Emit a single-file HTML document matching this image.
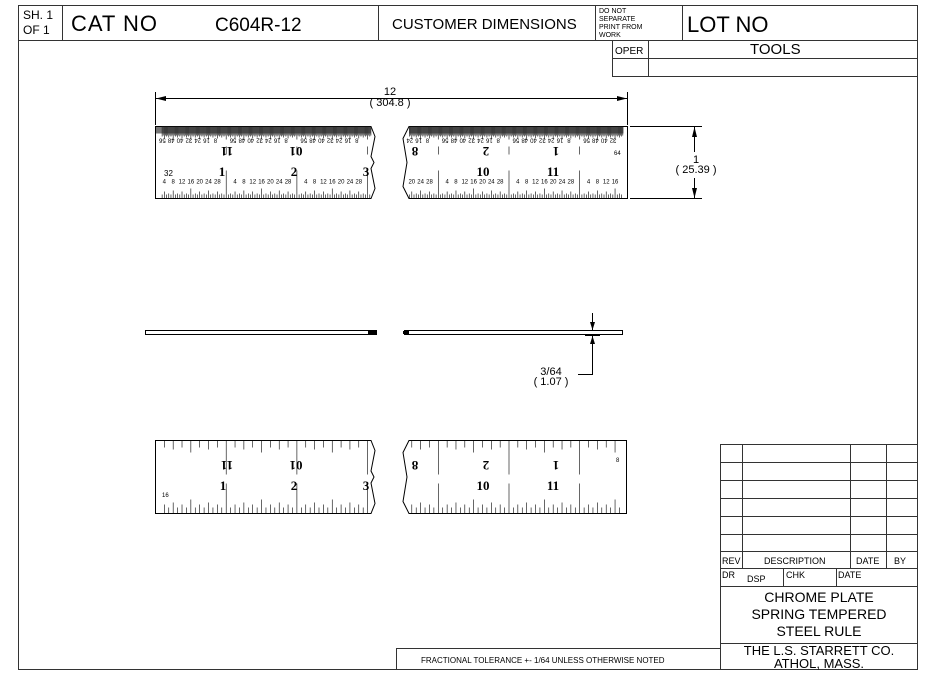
<!DOCTYPE html>
<html><head><meta charset="utf-8"><style>
html,body{margin:0;padding:0;background:#fff}
svg{display:block}
text{font-family:"Liberation Sans",sans-serif;fill:#000}
.b{font-family:"Liberation Serif",serif;font-weight:bold}
</style></head><body>
<svg id="s" width="936" height="684" viewBox="0 0 936 684" xmlns="http://www.w3.org/2000/svg">
<g fill="none" stroke="#333" stroke-width="1">
<rect x="18.5" y="5.5" width="899" height="664"/>
<line x1="18" y1="40.5" x2="918" y2="40.5"/>
<line x1="62.5" y1="5" x2="62.5" y2="40"/>
<line x1="378.5" y1="5" x2="378.5" y2="40"/>
<line x1="595.5" y1="5" x2="595.5" y2="40"/>
<line x1="682.5" y1="5" x2="682.5" y2="40"/>
<line x1="612.5" y1="40" x2="612.5" y2="76"/>
<line x1="648.5" y1="40" x2="648.5" y2="76"/>
<line x1="612" y1="58.5" x2="918" y2="58.5"/>
<line x1="612" y1="76.5" x2="918" y2="76.5"/>
<rect x="720.5" y="444.5" width="197" height="225"/>
<line x1="720" y1="462.5" x2="918" y2="462.5"/>
<line x1="720" y1="480.5" x2="918" y2="480.5"/>
<line x1="720" y1="498.5" x2="918" y2="498.5"/>
<line x1="720" y1="516.5" x2="918" y2="516.5"/>
<line x1="720" y1="534.5" x2="918" y2="534.5"/>
<line x1="720" y1="551.5" x2="918" y2="551.5"/>
<line x1="720" y1="568.5" x2="918" y2="568.5"/>
<line x1="720" y1="586.5" x2="918" y2="586.5"/>
<line x1="720" y1="643.5" x2="918" y2="643.5"/>
<line x1="742.5" y1="444" x2="742.5" y2="568"/>
<line x1="850.5" y1="444" x2="850.5" y2="568"/>
<line x1="886.5" y1="444" x2="886.5" y2="568"/>
<line x1="783.5" y1="568" x2="783.5" y2="586"/>
<line x1="836.5" y1="568" x2="836.5" y2="586"/>
<rect x="396.5" y="648.5" width="324" height="21"/>
</g>
<text x="23" y="19" font-size="12">SH. 1</text>
<text x="23" y="34" font-size="12">OF  1</text>
<text x="71" y="31" font-size="22" textLength="86">CAT NO</text>
<text x="215" y="31" font-size="19">C604R-12</text>
<text x="392" y="29" font-size="15">CUSTOMER DIMENSIONS</text>
<text x="599" y="13" font-size="7">DO NOT</text>
<text x="599" y="21" font-size="7">SEPARATE</text>
<text x="599" y="29" font-size="7">PRINT FROM</text>
<text x="599" y="37" font-size="7">WORK</text>
<text x="687" y="32" font-size="22">LOT NO</text>
<text x="615" y="54" font-size="10">OPER</text>
<text x="750" y="54" font-size="15">TOOLS</text>

<text x="722" y="564" font-size="9">REV</text>
<text x="764" y="564" font-size="9">DESCRIPTION</text>
<text x="856" y="564" font-size="9">DATE</text>
<text x="894" y="564" font-size="9">BY</text>
<text x="722" y="578" font-size="9">DR</text>
<text x="747" y="582" font-size="9">DSP</text>
<text x="786" y="578" font-size="9">CHK</text>
<text x="838" y="578" font-size="9">DATE</text>
<text x="819" y="602" font-size="14" text-anchor="middle">CHROME PLATE</text>
<text x="819" y="619" font-size="14" text-anchor="middle">SPRING TEMPERED</text>
<text x="819" y="636" font-size="14" text-anchor="middle">STEEL RULE</text>
<text x="819" y="655" font-size="13" text-anchor="middle">THE L.S. STARRETT CO.</text>
<text x="819" y="668" font-size="13" text-anchor="middle">ATHOL, MASS.</text>
<text x="421" y="663" font-size="8">FRACTIONAL TOLERANCE  +- 1/64 UNLESS OTHERWISE NOTED</text>

<g stroke="#000" stroke-width="1" fill="none">
<line x1="155.5" y1="92" x2="155.5" y2="125"/>
<line x1="627.5" y1="92" x2="627.5" y2="125"/>
<line x1="156" y1="98.5" x2="627" y2="98.5"/>
<line x1="630" y1="126.5" x2="702" y2="126.5"/>
<line x1="630" y1="198.5" x2="702" y2="198.5"/>
<line x1="694.5" y1="127" x2="694.5" y2="152"/>
<line x1="694.5" y1="178" x2="694.5" y2="198"/>
<line x1="592.5" y1="313" x2="592.5" y2="330"/>
<line x1="592.5" y1="336" x2="592.5" y2="374"/>
<line x1="578" y1="374.5" x2="593" y2="374.5"/>
<line x1="585" y1="330.5" x2="600" y2="330.5"/>
<line x1="585" y1="335.5" x2="600" y2="335.5"/>
</g>
<g fill="#000">
<polygon points="156,98.5 166,96 166,101"/>
<polygon points="627,98.5 617,96 617,101"/>
<polygon points="694.5,127 692,137 697,137"/>
<polygon points="694.5,198 692,188 697,188"/>
<polygon points="592.5,330 590,322 595,322"/>
<polygon points="592.5,336 590,344 595,344"/>
</g>
<text x="390" y="95" font-size="11" text-anchor="middle">12</text>
<text x="390" y="106" font-size="11" text-anchor="middle">( 304.8 )</text>
<text x="696" y="163" font-size="11" text-anchor="middle">1</text>
<text x="696" y="173" font-size="11" text-anchor="middle">( 25.39 )</text>
<text x="551" y="375" font-size="11" text-anchor="middle">3/64</text>
<text x="551" y="385" font-size="11" text-anchor="middle">( 1.07 )</text>

<g stroke="#000" fill="#fff">
<rect x="145.5" y="330.5" width="231" height="4"/>
<rect x="404.5" y="330.5" width="218" height="4"/>
</g>
<rect x="368" y="331" width="9" height="3" fill="#000"/>
<rect x="403" y="331" width="6" height="3" fill="#000"/>

<g id="rulers"></g>

<g class="b" font-size="13">
<text class="b" x="222" y="176" text-anchor="middle">1</text>
<text class="b" x="294" y="176" text-anchor="middle">2</text>
<text class="b" x="366" y="176" text-anchor="middle">3</text>
<text class="b" x="415" y="157" transform="rotate(180 415 152)" text-anchor="middle">8</text>
<text class="b" x="483" y="176" text-anchor="middle">10</text>
<text class="b" x="553" y="176" text-anchor="middle">11</text>
<text class="b" x="294" y="490" text-anchor="middle">2</text>
<text class="b" x="223" y="490" text-anchor="middle">1</text>
<text class="b" x="483" y="490" text-anchor="middle">10</text>
<text class="b" x="553" y="490" text-anchor="middle">11</text>
<text class="b" x="227" y="157" transform="rotate(180 227 152)" text-anchor="middle">11</text>
<text class="b" x="296" y="157" transform="rotate(180 296 152)" text-anchor="middle">01</text>
<text class="b" x="486" y="157" transform="rotate(180 486 152)" text-anchor="middle">2</text>
<text class="b" x="556" y="157" transform="rotate(180 556 152)" text-anchor="middle">1</text>
<text class="b" x="227" y="471" transform="rotate(180 227 466)" text-anchor="middle">11</text>
<text class="b" x="296" y="471" transform="rotate(180 296 466)" text-anchor="middle">01</text>
<text class="b" x="366" y="490" text-anchor="middle">3</text>
<text class="b" x="415" y="471" transform="rotate(180 415 466)" text-anchor="middle">8</text>
<text class="b" x="486" y="471" transform="rotate(180 486 466)" text-anchor="middle">2</text>
<text class="b" x="556" y="471" transform="rotate(180 556 466)" text-anchor="middle">1</text>
</g>
<text x="164" y="176" font-size="8">32</text>
<text x="162" y="497" font-size="6">16</text>
<text x="616" y="462" font-size="6">8</text>
<text x="614" y="155" font-size="6">64</text>
<g font-size="6" id="smalls"></g>
</svg>
<script>
var NS="http://www.w3.org/2000/svg",g=document.getElementById('rulers'),sm=document.getElementById('smalls');
function L(x1,y1,x2,y2,w,c){var l=document.createElementNS(NS,'line');l.setAttribute('x1',x1);l.setAttribute('y1',y1);l.setAttribute('x2',x2);l.setAttribute('y2',y2);l.setAttribute('stroke',c||'#000');l.setAttribute('stroke-width',w||0.6);g.appendChild(l);}
function R(x,y,w,h,c){var r=document.createElementNS(NS,'rect');r.setAttribute('x',x);r.setAttribute('y',y);r.setAttribute('width',w);r.setAttribute('height',h);r.setAttribute('fill',c);g.appendChild(r);}
function T(x,y,s,rot){var t=document.createElementNS(NS,'text');t.setAttribute('x',x);t.setAttribute('y',y);t.setAttribute('text-anchor','middle');t.setAttribute('font-size','6');if(rot)t.setAttribute('transform','rotate(180 '+x+' '+(y-2)+')');t.textContent=s;sm.appendChild(t);}
var IN=70.7,x0=155.5;
function X(i){return x0+i*IN;}
function outline(a,b,top,bot,leftZig,rightZig){
  var mid=(top+bot)/2;
  var pl=document.createElementNS(NS,'polygon');
  var pts=rightZig?[[a,top],[b-4,top],[b,top+10],[b-4,mid-6],[b-1,mid],[b-4,mid+6],[b,bot-10],[b-4,bot],[a,bot]]:[[a,top],[b,top],[b,bot],[a,bot]];
  if(leftZig){pts=[[a+6,top],[b,top],[b,bot],[a+6,bot],[a,bot-12],[a+4,mid],[a,top+12]];}
  pl.setAttribute('points',pts.map(function(q){return q.join(',')}).join(' '));
  pl.setAttribute('fill','none');pl.setAttribute('stroke','#000');pl.setAttribute('stroke-width','1');g.appendChild(pl);
}
function topRuler(a,b,top,bot,lz,rz){
  R(a+(lz?6:0),top,(b-4)-(a+(lz?6:0)),7,'#777');
  outline(a,b,top,bot,lz,rz);
  for(var k=0;;k++){var x=x0+k*IN/64;if(x>b-4)break;if(x<a+6)continue;
    var h=(k%16==0)?13:(k%8==0?12:(k%4==0?11:(k%2==0?10:9)));L(x,top,x,top+h,0.7,'#222');}
  for(var k=0;;k++){var x=x0+k*IN/32;if(x>b-4)break;if(x<a+6)continue;
    var h=(k%32==0)?28:(k%16==0?10:(k%8==0?8:(k%4==0?7:(k%2==0?5:4))));L(x,bot,x,bot-h,0.6);}
  var labs=['4','8','12','16','20','24','28'],ul=['56','48','40','32','24','16','8'];
  for(var i=0;i<13;i++){for(var j=0;j<7;j++){
    var x=X(i)+(j+1)*IN/8; if(x<a+6||x>b-6)continue;
    T(x,bot-15,labs[j]);T(X(i)+(j)*IN/8+IN/16*1.1+2,top+16,ul[j],true);}}
  for(var i=0;i<13;i++){var x=X(i);if(x>a+6&&x<b-4){L(x,top+20,x,top+28,0.6);}}
}
topRuler(155.5,375,126.5,198.5,false,true);
topRuler(403,627.5,126.5,198.5,true,false);
function botRuler(a,b,top,bot,lz,rz){
  outline(a,b,top,bot,lz,rz);
  for(var k=0;;k++){var x=x0+k*IN/8;if(x>b-3)break;if(x<a+6)continue;
    var h=(k%8==0)?34:(k%4==0?12:(k%2==0?9:7));L(x,top,x,top+h,0.6);}
  for(var k=0;;k++){var x=x0+k*IN/16;if(x>b-3)break;if(x<a+6)continue;
    var h=(k%16==0)?30:(k%8==0?14:(k%4==0?11:(k%2==0?9:6)));L(x,bot,x,bot-h,0.6);}
}
botRuler(155.5,375,440.5,513.5,false,true);
botRuler(403,626.5,440.5,513.5,true,false);
</script>
</body></html>
